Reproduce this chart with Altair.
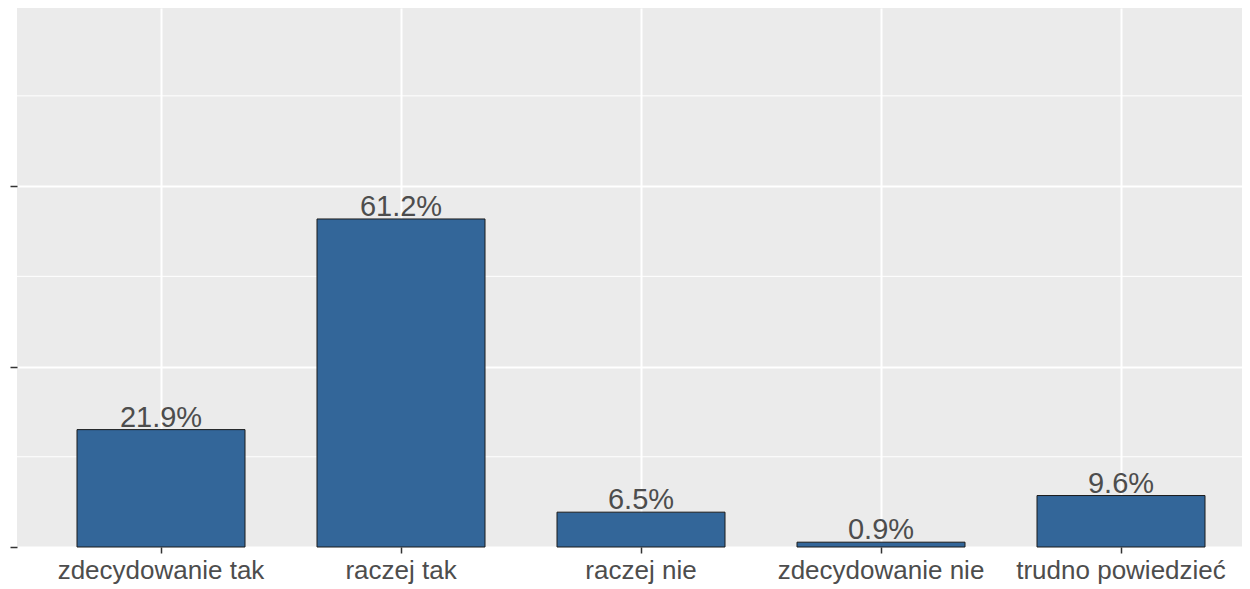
import altair as alt
import pandas as pd

categories = ["zdecydowanie tak", "raczej tak", "raczej nie", "zdecydowanie nie", "trudno powiedzieć"]
percents = [21.9, 61.2, 6.5, 0.9, 9.6]
labels = ["21.9%", "61.2%", "6.5%", "0.9%", "9.6%"]

major_ticks = [0, 33.67, 67.34]
minor_ticks = [16.83, 50.5, 84.17]

df = pd.DataFrame({"cat": categories, "pct": percents, "label": labels})
grid_df = pd.DataFrame({"v": minor_ticks})

FONT = "Liberation Sans"

yscale = alt.Scale(domain=[0, 100.56], nice=False, zero=True)
yaxis = alt.Axis(title=None, labels=False, values=major_ticks, tickSize=7,
                 tickColor="#333333", tickWidth=1.5, domain=False, grid=True,
                 gridColor="white", gridWidth=2)

xscale = alt.Scale(paddingInner=0.3, paddingOuter=0.2021, align=0.6186)
xaxis = alt.Axis(title=None, labelFontSize=26, labelColor="#4d4d4d", labelFont=FONT,
                 tickColor="#333333", tickSize=6, tickWidth=1.5, domain=False,
                 grid=True, gridColor="white", gridWidth=2, bandPosition=0.5,
                 labelPadding=4, labelAngle=0, labelLimit=0)

minor = alt.Chart(grid_df).mark_rule(color="white", strokeWidth=1).encode(
    y=alt.Y("v:Q", scale=yscale, axis=yaxis)
)

base = alt.Chart(df).encode(
    x=alt.X("cat:N", sort=categories, scale=xscale, axis=xaxis),
    y=alt.Y("pct:Q", scale=yscale, axis=yaxis),
)

bars = base.mark_bar(color="#336699", stroke="#1a1a1a", strokeWidth=1)
text = base.mark_text(fontSize=29, color="#4d4d4d", font=FONT, baseline="alphabetic", dy=-3).encode(
    text="label:N"
)

chart = alt.layer(minor, bars, text).properties(
    width=1225, height=539,
    autosize=alt.AutoSizeParams(type="none"),
    padding={"left": 9, "top": 0, "right": 0, "bottom": 42},
    background="white",
).configure_view(fill="#EBEBEB", stroke=None)

chart.save("out.html", embed_options={"renderer": "svg", "actions": False})
